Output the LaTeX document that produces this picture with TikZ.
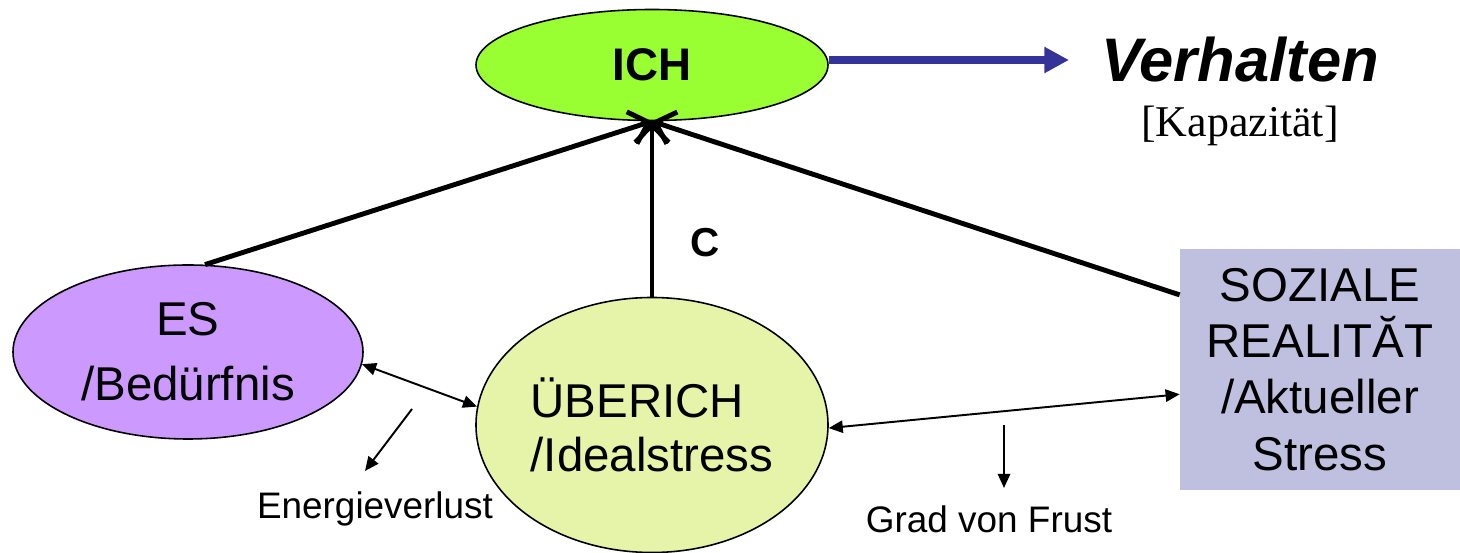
\documentclass[tikz,border=0pt]{standalone}
\usepackage{fontspec}
\setmainfont{Liberation Sans}
\newfontfamily\timesfont{Liberation Serif}
\usetikzlibrary{arrows.meta, shapes.geometric}

\definecolor{ichgreen}{RGB}{153,255,51}
\definecolor{espurple}{RGB}{204,153,255}
\definecolor{uegreen}{RGB}{229,244,169}
\definecolor{sozblue}{RGB}{191,191,223}
\definecolor{arrowblue}{RGB}{51,51,153}

\tikzset{
  psyche/.style={ellipse, draw, line width=0.9pt, inner sep=0pt, align=center},
  mainline/.style={line width=2.8pt, -{Straight Barb[length=10pt,width=19pt]}},
  thinline/.style={line width=1.1pt},
  smalltext/.style={font=\fontsize{21}{25}\selectfont, anchor=base},
}

\begin{document}
\begin{tikzpicture}
  \useasboundingbox (0,0) rectangle (29.2,11.06);

  % Ellipses and box
  \node[psyche, fill=ichgreen, minimum width=7.04cm, minimum height=2.22cm,
        font=\bfseries\fontsize{26}{30}\selectfont] (ICH) at (13.04,9.76) {ICH};
  \node[psyche, fill=espurple, minimum width=7.0cm, minimum height=3.48cm,
        font=\fontsize{27}{37}\selectfont] (ES) at (3.76,4.02) {ES\\/Bedürfnis};
  \node[psyche, fill=uegreen, minimum width=7.04cm, minimum height=5.1cm, align=left,
        font=\fontsize{27}{31}\selectfont] (UE) at (13.04,2.56) {ÜBERICH\\/Idealstress};
  \node[rectangle, fill=sozblue, minimum width=5.6cm, minimum height=4.82cm, inner sep=0pt,
        align=center, font=\fontsize{27}{32}\selectfont] (SOZ) at (26.4,3.67)
        {SOZIALE\\REALITĂT\\/Aktueller\\Stress};

  % Behaviour
  \node[inner sep=0pt, anchor=base, font=\bfseries\itshape\fontsize{35}{40}\selectfont] (Vh) at (24.8,9.42) {Verhalten};
  \node[inner sep=0pt, anchor=base, font=\timesfont\fontsize{25}{28}\selectfont] (Kap) at (24.8,8.32) {[Kapazität]};
  \draw[line width=4pt, arrowblue, -{Triangle[length=14pt,width=14pt]}, shorten >=18pt]
    (ICH.east |- Vh.west) -- (Vh.west);

  % Lines into ICH
  \draw[mainline] (ES.79) -- (ICH.south);
  \draw[mainline] (UE.north) -- (ICH.south);
  \draw[mainline] (SOZ.152) -- (ICH.south);
  \node[anchor=base, inner sep=0pt, font=\bfseries\fontsize{23}{27}\selectfont] (C) at (14.1,5.92) {C};

  % Double arrows
  \draw[thinline, {Triangle[length=8pt,width=7pt]}-{Triangle[length=8pt,width=7pt]}] (ES.-4) -- (UE.174);
  \draw[thinline, {Triangle[length=8pt,width=7pt]}-{Triangle[length=8pt,width=7pt]}] (UE.-1) -- (SOZ.190);

  % Losses
  \coordinate (ev1) at (8.24,2.88);
  \coordinate (ev2) at (7.30,1.64);
  \draw[thinline, -{Triangle[length=8pt,width=7pt]}] (ev1) -- (ev2);
  \node[smalltext] (EV) at (7.5,0.68) {Energieverlust};

  \coordinate (gf1) at (20.08,2.56);
  \coordinate (gf2) at (20.08,1.30);
  \draw[thinline, -{Triangle[length=8pt,width=7pt]}] (gf1) -- (gf2);
  \node[smalltext] (GF) at (19.78,0.40) {Grad von Frust};
\end{tikzpicture}
\end{document}
